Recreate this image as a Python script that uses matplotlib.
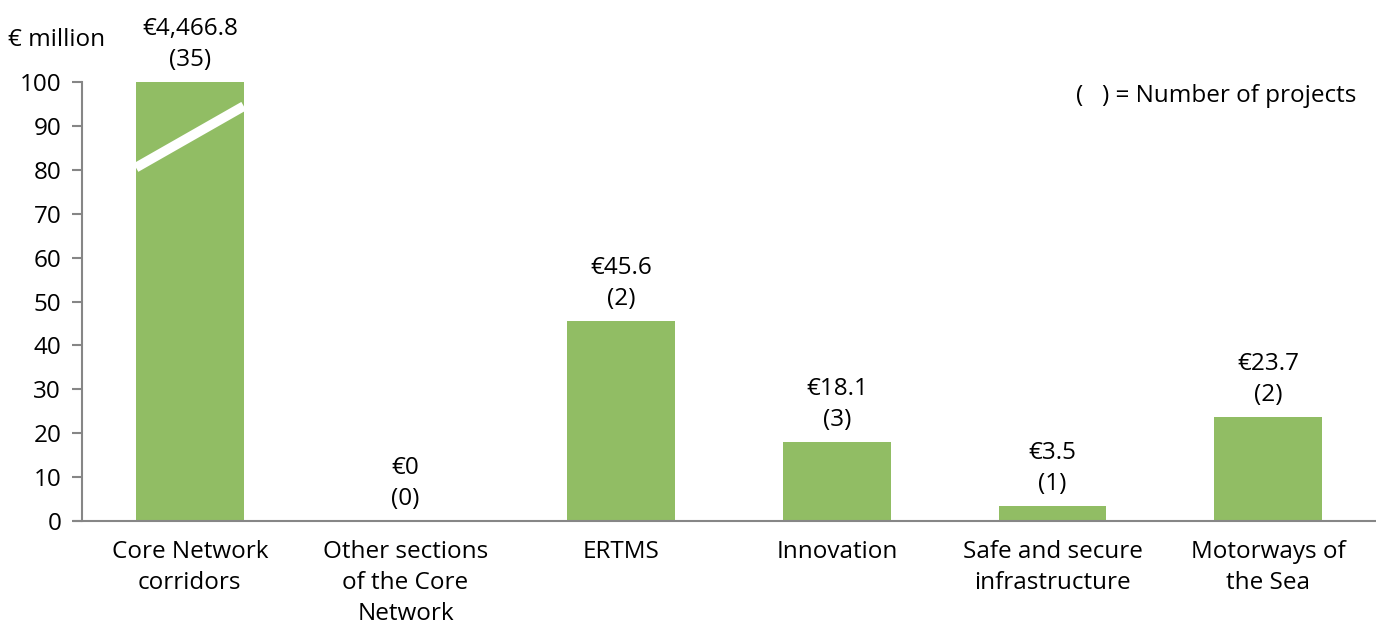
import matplotlib
matplotlib.use("Agg")
import matplotlib.pyplot as plt

plt.rcParams["font.family"] = ["Open Sans", "DejaVu Sans"]

CATEGORIES = ["Core Network\ncorridors", "Other sections\nof the Core\nNetwork", "ERTMS",
              "Innovation", "Safe and secure\ninfrastructure", "Motorways of\nthe Sea"]
VALUES = [4466.8, 0, 45.6, 18.1, 3.5, 23.7]
PROJECTS = [35, 0, 2, 3, 1, 2]
AXIS_MAX = 100

GREEN = "#91BD64"
GREY = "#868686"
FS = 17.5

fig = plt.figure(figsize=(13.76, 6.22), dpi=100)
ax = fig.add_axes([82 / 1376, 101 / 622, 1 - 82 / 1376, 439 / 622])

x = list(range(len(CATEGORIES)))
shown = [min(v, AXIS_MAX) for v in VALUES]
bars = ax.bar(x, shown, width=0.5, color=GREEN, zorder=2)

# broken-axis marker on the bar that exceeds the scale
b = bars[0]
ax.plot([b.get_x(), b.get_x() + b.get_width()], [80.5, 94.5], color="white", lw=7,
        solid_capstyle="butt", zorder=3)

for xi, v, val, n in zip(x, shown, VALUES, PROJECTS):
    lbl = "€0" if val == 0 else f"€{val:,.1f}"
    ax.annotate(f"{lbl}\n({n})", (xi, v), xytext=(0, 7), textcoords="offset points",
                ha="center", va="bottom", fontsize=FS, linespacing=1.4, annotation_clip=False)

ax.set_xlim(-0.5, 5.5)
ax.set_ylim(0, AXIS_MAX)
ax.set_yticks(range(0, 101, 10))
ax.set_xticks(x)
ax.set_xticklabels(CATEGORIES, fontsize=FS, linespacing=1.38)
ax.tick_params(axis="y", labelsize=FS, color=GREY, length=7, width=1.5, pad=8)
ax.tick_params(axis="x", length=0, pad=14)
for s in ["top", "right"]:
    ax.spines[s].set_visible(False)
for s in ["left", "bottom"]:
    ax.spines[s].set_color(GREY)
    ax.spines[s].set_linewidth(1.5)
ax.spines["bottom"].set_bounds(-0.535, 5.5)

fig.text(8 / 1376, 1 - 40 / 622, "€ million", fontsize=FS, va="center", ha="left")
fig.text(1356 / 1376, 1 - 96 / 622, "(   ) = Number of projects", fontsize=FS, va="center", ha="right")

fig.savefig("out.png", dpi=100)
